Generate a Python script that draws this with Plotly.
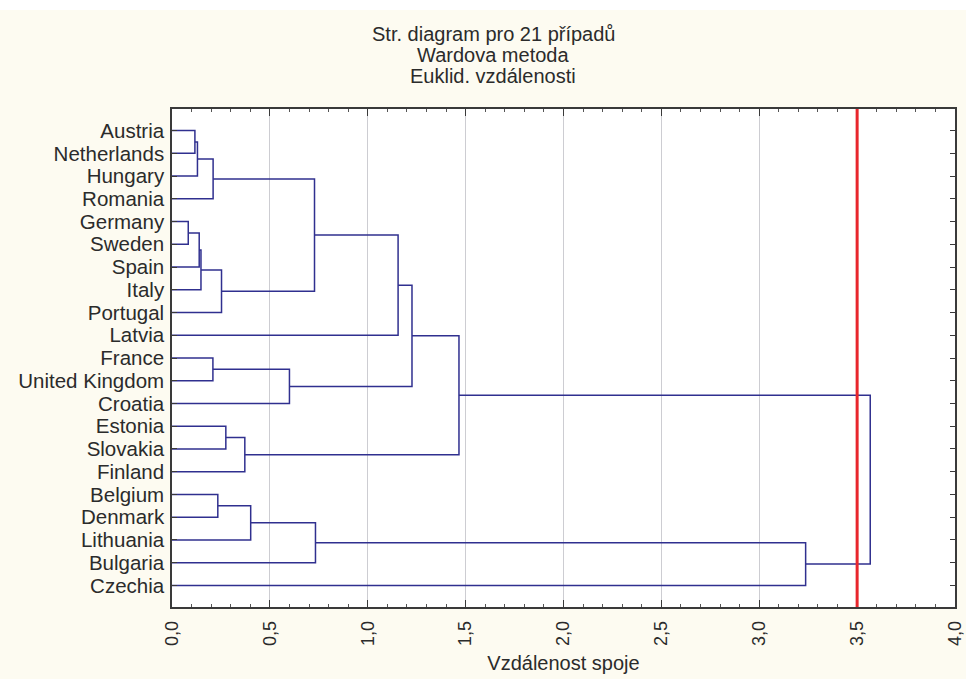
import plotly.graph_objects as go

# ---- data ----
leaves = ["Austria", "Netherlands", "Hungary", "Romania", "Germany", "Sweden",
          "Spain", "Italy", "Portugal", "Latvia", "France", "United Kingdom",
          "Croatia", "Estonia", "Slovakia", "Finland", "Belgium", "Denmark",
          "Lithuania", "Bulgaria", "Czechia"]

# merges: (left member, right member, linkage distance); members are leaf names
# or earlier cluster ids "c<k>" (k = index in this list)
merges = [
    ("Austria", "Netherlands", 0.117),   # c0
    ("c0", "Hungary", 0.130),            # c1
    ("c1", "Romania", 0.210),            # c2
    ("Germany", "Sweden", 0.083),        # c3
    ("c3", "Spain", 0.139),              # c4
    ("c4", "Italy", 0.148),              # c5
    ("c5", "Portugal", 0.253),           # c6
    ("c2", "c6", 0.728),                 # c7
    ("c7", "Latvia", 1.155),             # c8
    ("France", "United Kingdom", 0.209), # c9
    ("c9", "Croatia", 0.600),            # c10
    ("c8", "c10", 1.226),                # c11
    ("Estonia", "Slovakia", 0.275),      # c12
    ("c12", "Finland", 0.372),           # c13
    ("c11", "c13", 1.466),               # c14
    ("Belgium", "Denmark", 0.234),       # c15
    ("c15", "Lithuania", 0.402),         # c16
    ("c16", "Bulgaria", 0.733),          # c17
    ("c17", "Czechia", 3.237),           # c18
    ("c14", "c18", 3.567),               # c19
]

cut_height = 3.5
x_ticks = [0.0, 0.5, 1.0, 1.5, 2.0, 2.5, 3.0, 3.5, 4.0]
x_ticktext = ["0,0", "0,5", "1,0", "1,5", "2,0", "2,5", "3,0", "3,5", "4,0"]

title_lines = ["Str. diagram pro 21 případů", "Wardova metoda", "Euklid. vzdálenosti"]
x_title = "Vzdálenost spoje"

# ---- build dendrogram segments ----
pos = {name: (0.0, i) for i, name in enumerate(leaves)}
xs, ys = [], []
for k, (a, b, h) in enumerate(merges):
    ha, ya = pos[a]
    hb, yb = pos[b]
    xs += [ha, h, h, hb, None]
    ys += [ya, ya, yb, yb, None]
    pos["c%d" % k] = (h, (ya + yb) / 2.0)

FONT = "Liberation Sans, Arial, sans-serif"
TXT = "#2b2b2b"
ML, MR, MT, MB = 172, 11, 109, 72
PW, PH = 966 - ML - MR, 679 - MT - MB

fig = go.Figure()
fig.add_trace(go.Scatter(x=xs, y=ys, mode="lines",
                         line=dict(color="#30308f", width=1.5),
                         hoverinfo="skip", showlegend=False))

fig.add_shape(type="line", xref="x", yref="paper", x0=cut_height, x1=cut_height,
              y0=0, y1=1, line=dict(color="#e8262c", width=3), layer="above")

fig.update_layout(
    width=966, height=679,
    margin=dict(l=ML, r=MR, t=MT, b=MB, autoexpand=False),
    paper_bgcolor="#fdfbf1", plot_bgcolor="#ffffff",
    font=dict(family=FONT, size=20, color=TXT),
    showlegend=False,
)

fig.update_xaxes(
    range=[0, 4], tickvals=x_ticks, ticktext=x_ticktext, tickangle=-90,
    tickfont=dict(size=18, color=TXT),
    showgrid=True, gridcolor="#cdcdd2", gridwidth=1,
    zeroline=False, automargin=False, ticklabeloverflow="allow",
    showline=True, linecolor="#3a3a3a", linewidth=1.5, mirror="allticks",
    ticks="inside", ticklen=7, tickcolor="#3a3a3a",
    minor=dict(dtick=0.1, ticks="inside", ticklen=3, tickcolor="#555555", showgrid=False),
    ticklabelstandoff=5,
    title=dict(text=x_title, font=dict(size=20, color=TXT), standoff=11),
)

fig.update_yaxes(
    range=[len(leaves) - 1 + 0.95, -0.95],
    tickvals=list(range(len(leaves))), ticktext=leaves,
    tickfont=dict(size=20.5, color=TXT),
    showgrid=False, zeroline=False, automargin=False,
    showline=True, linecolor="#3a3a3a", linewidth=1.5, mirror="allticks",
    ticks="inside", ticklen=5, tickcolor="#3a3a3a",
    ticklabelstandoff=2,
)

# title lines
for i, t in enumerate(title_lines):
    fig.add_annotation(text=t, xref="paper", yref="paper",
                       x=(493 - ML) / PW, y=1 + (MT - (34 + 21 * i)) / PH,
                       xanchor="center", yanchor="middle", showarrow=False,
                       font=dict(size=20, color=TXT, family=FONT))

# thin white strip at top of the screenshot
fig.add_shape(type="rect", xref="paper", yref="paper",
              x0=-ML / PW, x1=1 + MR / PW, y0=1 + (MT - 10) / PH, y1=1 + (MT + 1) / PH,
              fillcolor="#ffffff", line=dict(width=0), layer="below")

fig.write_html("out.html")
